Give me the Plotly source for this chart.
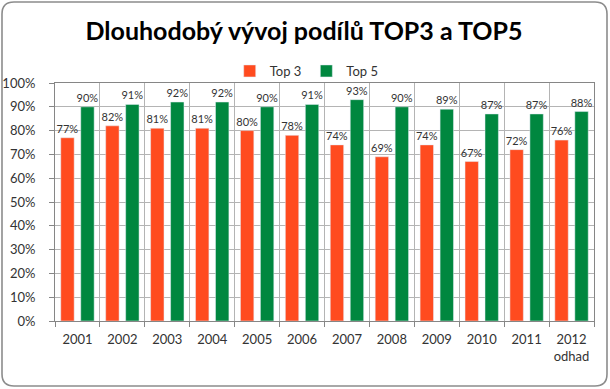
import plotly.graph_objects as go

years = ["2001", "2002", "2003", "2004", "2005", "2006", "2007", "2008", "2009", "2010", "2011", "2012<br>odhad"]
top3 = [0.77, 0.82, 0.81, 0.81, 0.80, 0.78, 0.74, 0.69, 0.74, 0.67, 0.72, 0.76]
top5 = [0.90, 0.91, 0.92, 0.92, 0.90, 0.91, 0.93, 0.90, 0.89, 0.87, 0.87, 0.88]
y_ticks = [i / 10 for i in range(11)]

W, H = 610, 389
L, R, T, B = 55, 16, 83, 68
FONT = "Lato"
TXT = "#333333"

fig = go.Figure()
for name, vals, col in [("Top 3", top3, "#FF4B1F"), ("Top 5", top5, "#00873F")]:
    fig.add_trace(go.Bar(name=name, x=years, y=vals, marker_color=col,
                         texttemplate="%{y:.0%}", textposition="outside", textangle=0,
                         constraintext="none",
                         textfont=dict(size=11, color=TXT, family=FONT), cliponaxis=False))

# rounded chart frame (decoration), pixel coords converted to paper coords
pw, ph = W - L - R, H - T - B
def px(x): return (x - L) / pw
def py(y): return (H - B - y) / ph
x0, y0, x1, y1, r = 2, 2, 607, 386, 12
path = (f"M {px(x0+r)},{py(y0)} L {px(x1-r)},{py(y0)} Q {px(x1)},{py(y0)} {px(x1)},{py(y0+r)} "
        f"L {px(x1)},{py(y1-r)} Q {px(x1)},{py(y1)} {px(x1-r)},{py(y1)} "
        f"L {px(x0+r)},{py(y1)} Q {px(x0)},{py(y1)} {px(x0)},{py(y1-r)} "
        f"L {px(x0)},{py(y0+r)} Q {px(x0)},{py(y0)} {px(x0+r)},{py(y0)} Z")
fig.add_shape(type="path", path=path, xref="paper", yref="paper",
              line=dict(color="#8C8C8C", width=1.6), layer="above")

fig.update_layout(
    width=W, height=H,
    margin=dict(l=L, r=R, t=T, b=B),
    paper_bgcolor="white", plot_bgcolor="white",
    barmode="group", bargap=0.11, bargroupgap=0.33,
    title=dict(text="<b>Dlouhodobý vývoj podílů TOP3 a TOP5</b>", x=(304 / W), xanchor="center",
               y=1 - 31 / H, yanchor="middle",
               font=dict(family=FONT, size=25, color="#000000")),
    legend=dict(orientation="h", x=0.467, xanchor="center", y=1 + 12 / ph, yanchor="middle",
                font=dict(family=FONT, size=13, color=TXT), itemwidth=30,
                bgcolor="rgba(0,0,0,0)"),
    font=dict(family=FONT, color=TXT),
    xaxis=dict(type="category", tickson="boundaries", showgrid=True, gridcolor="#B4B4B4",
               showline=True, linecolor="#868686", mirror=True, ticks="outside", ticklen=5,
               tickcolor="#868686", tickangle=0, tickfont=dict(family=FONT, size=13, color=TXT),
               ticklabelstandoff=6, automargin=False),
    yaxis=dict(range=[0, 1], tickvals=y_ticks, tickformat=".0%", showgrid=True,
               gridcolor="#B4B4B4", showline=True, linecolor="#868686", mirror=True,
               ticks="outside", ticklen=5, tickcolor="#868686",
               tickfont=dict(family=FONT, size=13, color=TXT), zeroline=False,
               ticklabelstandoff=11, automargin=False),
)

fig.write_html("out.html", config={"displayModeBar": False},
               post_script="document.body.style.margin='0';document.body.style.overflow='hidden';")
